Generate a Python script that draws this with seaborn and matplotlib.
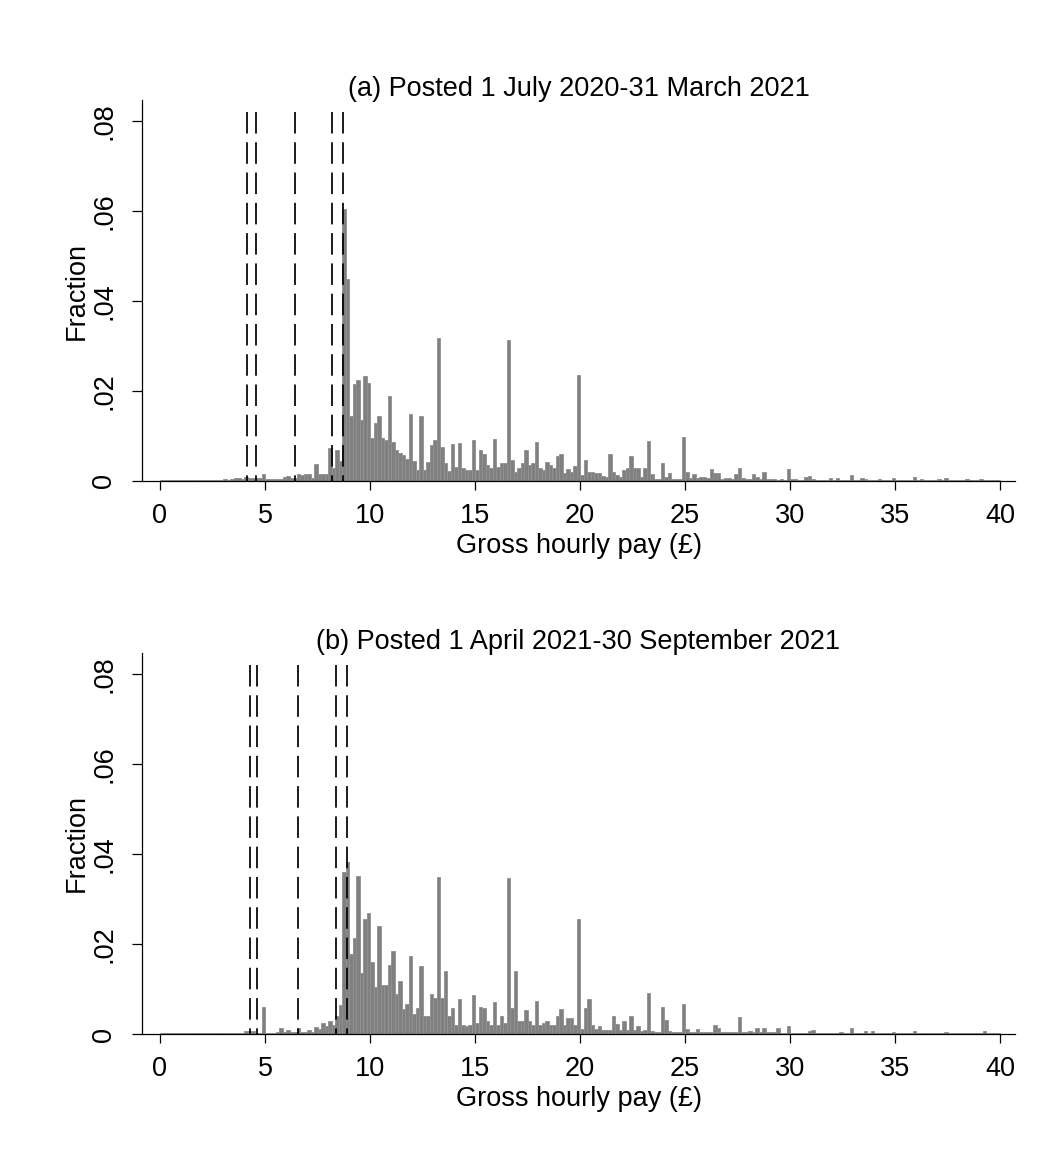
import numpy as np
import pandas as pd
import matplotlib
matplotlib.use("Agg")
import matplotlib.pyplot as plt
import seaborn as sns

# ---------------- data ----------------
# histogram bins of width 1/6 covering 0 .. 40 (240 bins)
n_bins = 240
pay_range = (0, 40)

# (a) Posted 1 July 2020-31 March 2021 : fraction in each bin
frac_a = [
    0.0002, 0.0002, 0.0002, 0.0002, 0.0002, 0.0003, 0.0002, 0.0002, 0.0002, 0.0002,
    0.0002, 0.0002, 0.0003, 0.0002, 0.0002, 0.0003, 0.0002, 0.0003, 0.0004, 0.0003,
    0.0005, 0.0007, 0.0007, 0.0004, 0.0010, 0.0006, 0.0006, 0.0007, 0.0007, 0.0016,
    0.0005, 0.0004, 0.0004, 0.0004, 0.0005, 0.0010, 0.0012, 0.0007, 0.0007, 0.0016,
    0.0014, 0.0016, 0.0016, 0.0007, 0.0037, 0.0016, 0.0016, 0.0016, 0.0073, 0.0028,
    0.0070, 0.0045, 0.0604, 0.0450, 0.0144, 0.0216, 0.0224, 0.0136, 0.0233, 0.0217,
    0.0095, 0.0128, 0.0144, 0.0095, 0.0092, 0.0189, 0.0087, 0.0069, 0.0063, 0.0058,
    0.0050, 0.0149, 0.0045, 0.0024, 0.0144, 0.0024, 0.0043, 0.0080, 0.0091, 0.0319,
    0.0076, 0.0041, 0.0022, 0.0082, 0.0032, 0.0085, 0.0028, 0.0024, 0.0024, 0.0091,
    0.0024, 0.0070, 0.0061, 0.0036, 0.0030, 0.0093, 0.0032, 0.0041, 0.0039, 0.0313,
    0.0047, 0.0021, 0.0030, 0.0041, 0.0069, 0.0036, 0.0041, 0.0086, 0.0028, 0.0024,
    0.0043, 0.0036, 0.0030, 0.0056, 0.0060, 0.0017, 0.0026, 0.0020, 0.0033, 0.0236,
    0.0013, 0.0047, 0.0019, 0.0019, 0.0017, 0.0017, 0.0011, 0.0010, 0.0060, 0.0019,
    0.0013, 0.0010, 0.0024, 0.0030, 0.0056, 0.0028, 0.0028, 0.0010, 0.0030, 0.0089,
    0.0016, 0.0004, 0.0004, 0.0041, 0.0008, 0.0017, 0.0004, 0.0004, 0.0004, 0.0097,
    0.0021, 0.0006, 0.0015, 0.0006, 0.0010, 0.0010, 0.0006, 0.0026, 0.0017, 0.0017,
    0.0004, 0.0006, 0.0006, 0.0004, 0.0016, 0.0030, 0.0006, 0.0004, 0.0004, 0.0015,
    0.0010, 0.0004, 0.0019, 0.0004, 0.0004, 0.0004, 0.0003, 0.0004, 0.0003, 0.0026,
    0.0004, 0.0004, 0.0003, 0.0003, 0.0010, 0.0011, 0.0004, 0.0003, 0.0003, 0.0003,
    0.0003, 0.0006, 0.0003, 0.0006, 0.0003, 0.0003, 0.0003, 0.0013, 0.0003, 0.0003,
    0.0007, 0.0004, 0.0003, 0.0003, 0.0003, 0.0004, 0.0003, 0.0003, 0.0003, 0.0007,
    0.0003, 0.0003, 0.0003, 0.0003, 0.0003, 0.0010, 0.0003, 0.0004, 0.0003, 0.0003,
    0.0003, 0.0003, 0.0004, 0.0003, 0.0006, 0.0003, 0.0003, 0.0003, 0.0003, 0.0003,
    0.0004, 0.0003, 0.0003, 0.0003, 0.0005, 0.0003, 0.0002, 0.0002, 0.0002, 0.0002,
]

# (b) Posted 1 April 2021-30 September 2021 : fraction in each bin
frac_b = [
    0.0002, 0.0002, 0.0002, 0.0002, 0.0002, 0.0002, 0.0002, 0.0002, 0.0002, 0.0002,
    0.0002, 0.0002, 0.0002, 0.0002, 0.0002, 0.0002, 0.0002, 0.0002, 0.0002, 0.0002,
    0.0002, 0.0002, 0.0003, 0.0003, 0.0006, 0.0006, 0.0006, 0.0003, 0.0003, 0.0059,
    0.0003, 0.0003, 0.0003, 0.0004, 0.0013, 0.0004, 0.0009, 0.0004, 0.0004, 0.0013,
    0.0005, 0.0005, 0.0008, 0.0005, 0.0016, 0.0012, 0.0024, 0.0017, 0.0028, 0.0020,
    0.0040, 0.0065, 0.0361, 0.0383, 0.0178, 0.0213, 0.0352, 0.0135, 0.0255, 0.0270,
    0.0159, 0.0105, 0.0239, 0.0109, 0.0109, 0.0153, 0.0185, 0.0089, 0.0118, 0.0055,
    0.0067, 0.0173, 0.0045, 0.0057, 0.0151, 0.0040, 0.0040, 0.0090, 0.0081, 0.0348,
    0.0081, 0.0140, 0.0040, 0.0058, 0.0021, 0.0078, 0.0020, 0.0017, 0.0020, 0.0087,
    0.0025, 0.0061, 0.0058, 0.0030, 0.0020, 0.0072, 0.0020, 0.0039, 0.0024, 0.0347,
    0.0058, 0.0139, 0.0030, 0.0030, 0.0054, 0.0028, 0.0020, 0.0074, 0.0020, 0.0024,
    0.0030, 0.0020, 0.0020, 0.0039, 0.0055, 0.0020, 0.0036, 0.0036, 0.0020, 0.0255,
    0.0012, 0.0057, 0.0078, 0.0020, 0.0012, 0.0017, 0.0008, 0.0008, 0.0010, 0.0039,
    0.0022, 0.0008, 0.0028, 0.0008, 0.0039, 0.0008, 0.0017, 0.0006, 0.0008, 0.0091,
    0.0007, 0.0005, 0.0005, 0.0059, 0.0032, 0.0006, 0.0005, 0.0005, 0.0005, 0.0066,
    0.0011, 0.0005, 0.0005, 0.0011, 0.0005, 0.0005, 0.0005, 0.0005, 0.0019, 0.0013,
    0.0004, 0.0004, 0.0004, 0.0004, 0.0004, 0.0037, 0.0004, 0.0004, 0.0007, 0.0004,
    0.0013, 0.0004, 0.0013, 0.0004, 0.0004, 0.0004, 0.0013, 0.0003, 0.0003, 0.0017,
    0.0003, 0.0003, 0.0003, 0.0003, 0.0003, 0.0007, 0.0010, 0.0003, 0.0003, 0.0003,
    0.0003, 0.0003, 0.0003, 0.0003, 0.0004, 0.0003, 0.0003, 0.0013, 0.0003, 0.0003,
    0.0003, 0.0007, 0.0003, 0.0007, 0.0003, 0.0003, 0.0003, 0.0003, 0.0003, 0.0005,
    0.0003, 0.0003, 0.0003, 0.0003, 0.0003, 0.0006, 0.0003, 0.0003, 0.0003, 0.0003,
    0.0003, 0.0003, 0.0003, 0.0003, 0.0004, 0.0003, 0.0003, 0.0003, 0.0003, 0.0003,
    0.0002, 0.0003, 0.0003, 0.0003, 0.0003, 0.0007, 0.0002, 0.0002, 0.0002, 0.0002,
]

# National minimum / living wage rates (dashed reference lines)
min_wage_a = [4.15, 4.55, 6.45, 8.20, 8.72]
min_wage_b = [4.30, 4.62, 6.56, 8.36, 8.91]

titles = ["(a) Posted 1 July 2020-31 March 2021",
          "(b) Posted 1 April 2021-30 September 2021"]
x_ticks = [0, 5, 10, 15, 20, 25, 30, 35, 40]
y_ticks = [0, 0.02, 0.04, 0.06, 0.08]
y_tick_labels = ["0", ".02", ".04", ".06", ".08"]
x_label = "Gross hourly pay (£)"
y_label = "Fraction"

# ---------------- plotting ----------------
sns.set_theme(style="white")
plt.rcParams["font.family"] = ["Liberation Sans", "DejaVu Sans"]
plt.rcParams["lines.scale_dashes"] = False
for k in ["text.color", "axes.labelcolor", "xtick.color", "ytick.color"]:
    plt.rcParams[k] = "black"

W, H = 1058, 1155
fig = plt.figure(figsize=(W / 100, H / 100), dpi=100)

edges = np.linspace(pay_range[0], pay_range[1], n_bins + 1)
centers = (edges[:-1] + edges[1:]) / 2

panels = [
    (frac_a, min_wage_a, titles[0], 481),
    (frac_b, min_wage_b, titles[1], 1034),
]
FS = 19.5
for frac, mw, title, base_px in panels:
    ax = fig.add_axes([142 / W, 1 - base_px / H, (1015 - 142) / W, 381 / H])
    df = pd.DataFrame({"pay": centers, "fraction": frac})
    sns.histplot(data=df, x="pay", weights="fraction", bins=n_bins,
                 binrange=pay_range, stat="count",
                 color="#808080", alpha=1.0, edgecolor="#909090", linewidth=0.6,
                 ax=ax)
    for x in mw:
        ax.plot([x, x], [0.082, 0.0], color="black", lw=1.25,
                linestyle=(0, (15.5, 6.3)), solid_capstyle="butt",
                dash_capstyle="butt", zorder=3)
    ax.set_xlim(-0.857, 40.71)
    ax.set_ylim(0, 0.0847)
    ax.set_xticks(x_ticks)
    ax.set_xticklabels([str(t) for t in x_ticks], fontsize=FS)
    ax.set_yticks(y_ticks)
    ax.set_yticklabels(y_tick_labels, fontsize=FS, rotation=90, va="center")
    ax.tick_params(axis="x", length=6.5, width=0.9, color="black", pad=9.5,
                   direction="out", bottom=True)
    ax.tick_params(axis="y", length=7, width=0.9, color="black", pad=11,
                   direction="out", left=True)
    for s in ["top", "right"]:
        ax.spines[s].set_visible(False)
    for s in ["left", "bottom"]:
        ax.spines[s].set_color("black")
        ax.spines[s].set_linewidth(0.9)
    ax.set_xlabel(x_label, fontsize=FS, labelpad=3)
    ax.set_ylabel(y_label, fontsize=FS, labelpad=1)
    ax.set_title(title, fontsize=FS, pad=3)
    ax.set_facecolor("white")

fig.savefig("out.png", dpi=100, facecolor="white")
